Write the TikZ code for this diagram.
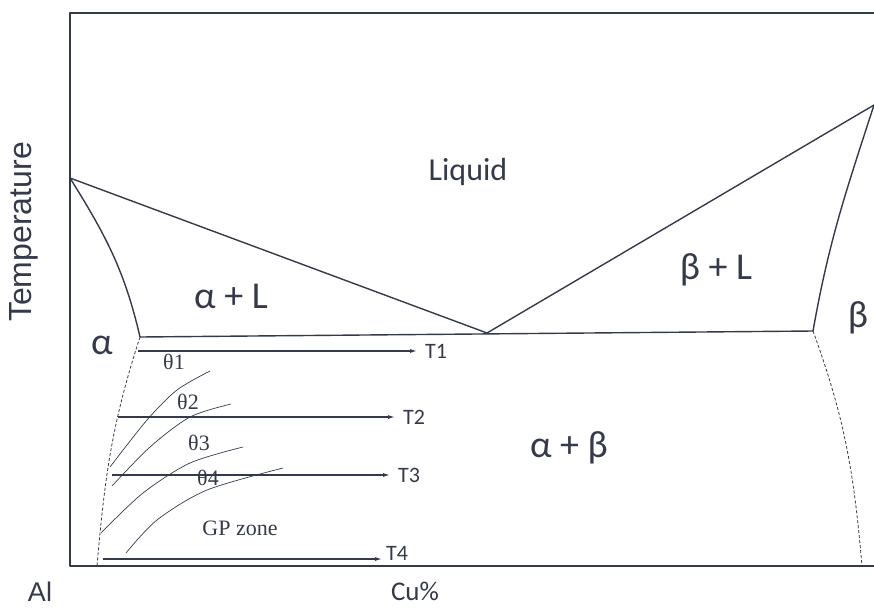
\documentclass[tikz,border=0pt]{standalone}
\usepackage{fontspec}
\setmainfont{Liberation Serif}
\newfontfamily\calib{Carlito}
\newfontfamily\arial{Liberation Sans}
\usepackage{tikz}
\usetikzlibrary{arrows.meta,positioning}
\definecolor{phInk}{HTML}{353A4A}

\begin{document}
\begin{tikzpicture}[x=1pt,y=-1pt,line join=round,
  phase/.style={draw=phInk,line width=1.4pt},
  solvus/.style={draw=phInk,line width=0.8pt,densely dashed},
  aging/.style={draw=phInk,line width=0.7pt},
  quench/.style={draw=phInk,line width=1.2pt,-{Latex[length=7pt,width=4pt]}},
  reg/.style={text=phInk,font=\calib\fontsize{38}{40}\selectfont,inner sep=0pt},
  tlab/.style={text=phInk,font=\calib\fontsize{22}{24}\selectfont,inner sep=0pt},
  thlab/.style={text=phInk,font=\fontsize{22}{24}\selectfont,inner sep=0pt}]
\useasboundingbox (0,0) rectangle (874,613);
% frame
\draw[phInk,line width=1.8pt] (874,13) -- (70,13) -- (70,566) -- (874,566);
% phase boundaries
\coordinate (liqA) at (70,178);\coordinate (eut) at (487,333);\coordinate (liqB) at (874,105);
\coordinate (solA) at (140,337);\coordinate (solB) at (813,331);
\coordinate (svA) at (97,566);\coordinate (svB) at (862,566);
\draw[phase] (liqA) -- (eut) -- (liqB);
\draw[phase] (solA) -- (solB);
\draw[phase] (liqA) to[out=-58,in=103] (solA);
\draw[phase] (liqB) to[out=-108,in=80] (solB);
\draw[solvus] (solA) to[out=-108,in=85] (svA);
\draw[solvus] (solB) to[out=-70,in=95] (svB);
% precipitation curves
\draw[aging] plot[smooth] coordinates {(110,467) (147,420) (177,390) (210,371)};
\draw[aging] plot[smooth] coordinates {(112,486) (150,447) (190,417) (231,404)};
\draw[aging] plot[smooth] coordinates {(101,533) (143,493) (190,463) (243,447)};
\draw[aging] plot[smooth] coordinates {(126,553) (157,520) (207,490) (283,468)};
% quench lines
\coordinate (q1s) at (138,351);\coordinate (q1e) at (417,351);
\coordinate (q2s) at (118,417);\coordinate (q2e) at (395,417);
\coordinate (q3s) at (112,475);\coordinate (q3e) at (390,475);
\coordinate (q4s) at (103,559);\coordinate (q4e) at (382,559);
\draw[quench] (q1s) -- (q1e);\node[tlab,right=8pt of q1e] (t1) {T1};
\draw[quench] (q2s) -- (q2e);\node[tlab,right=8pt of q2e] (t2) {T2};
\draw[quench] (q3s) -- (q3e);\node[tlab,right=8pt of q3e] (t3) {T3};
\draw[quench] (q4s) -- (q4e);\node[tlab,anchor=south west] (t4) at ([xshift=4pt,yshift=-2pt]q4e) {T4};
% labels
\node[reg,font=\calib\fontsize{32}{36}\selectfont] (liq) at (468,172) {Liquid};
\node[reg] (aL) at (231,296) {α + L};
\node[reg] (bL) at (716,270) {β + L};
\node[reg] (a) at (102,345) {α};
\node[reg] (b) at (858,318) {β};
\node[reg] (ab) at (569,448) {α + β};
\node[thlab] (th1) at (174,362) {θ1};
\node[thlab] (th2) at (188,402) {θ2};
\node[thlab] (th3) at (199,443) {θ3};
\node[thlab] (th4) at (208,478) {θ4};
\node[thlab] (gp) at (240,528) {GP zone};
\node[text=phInk,font=\arial\fontsize{32}{34}\selectfont,rotate=90] (temp) at (24,232) {Temperature};
\node[text=phInk,font=\arial\fontsize{27}{29}\selectfont] (al) at (40,592) {Al};
\node[text=phInk,font=\calib\fontsize{27}{29}\selectfont] (cu) at (415,591) {Cu\%};
\end{tikzpicture}
\end{document}
